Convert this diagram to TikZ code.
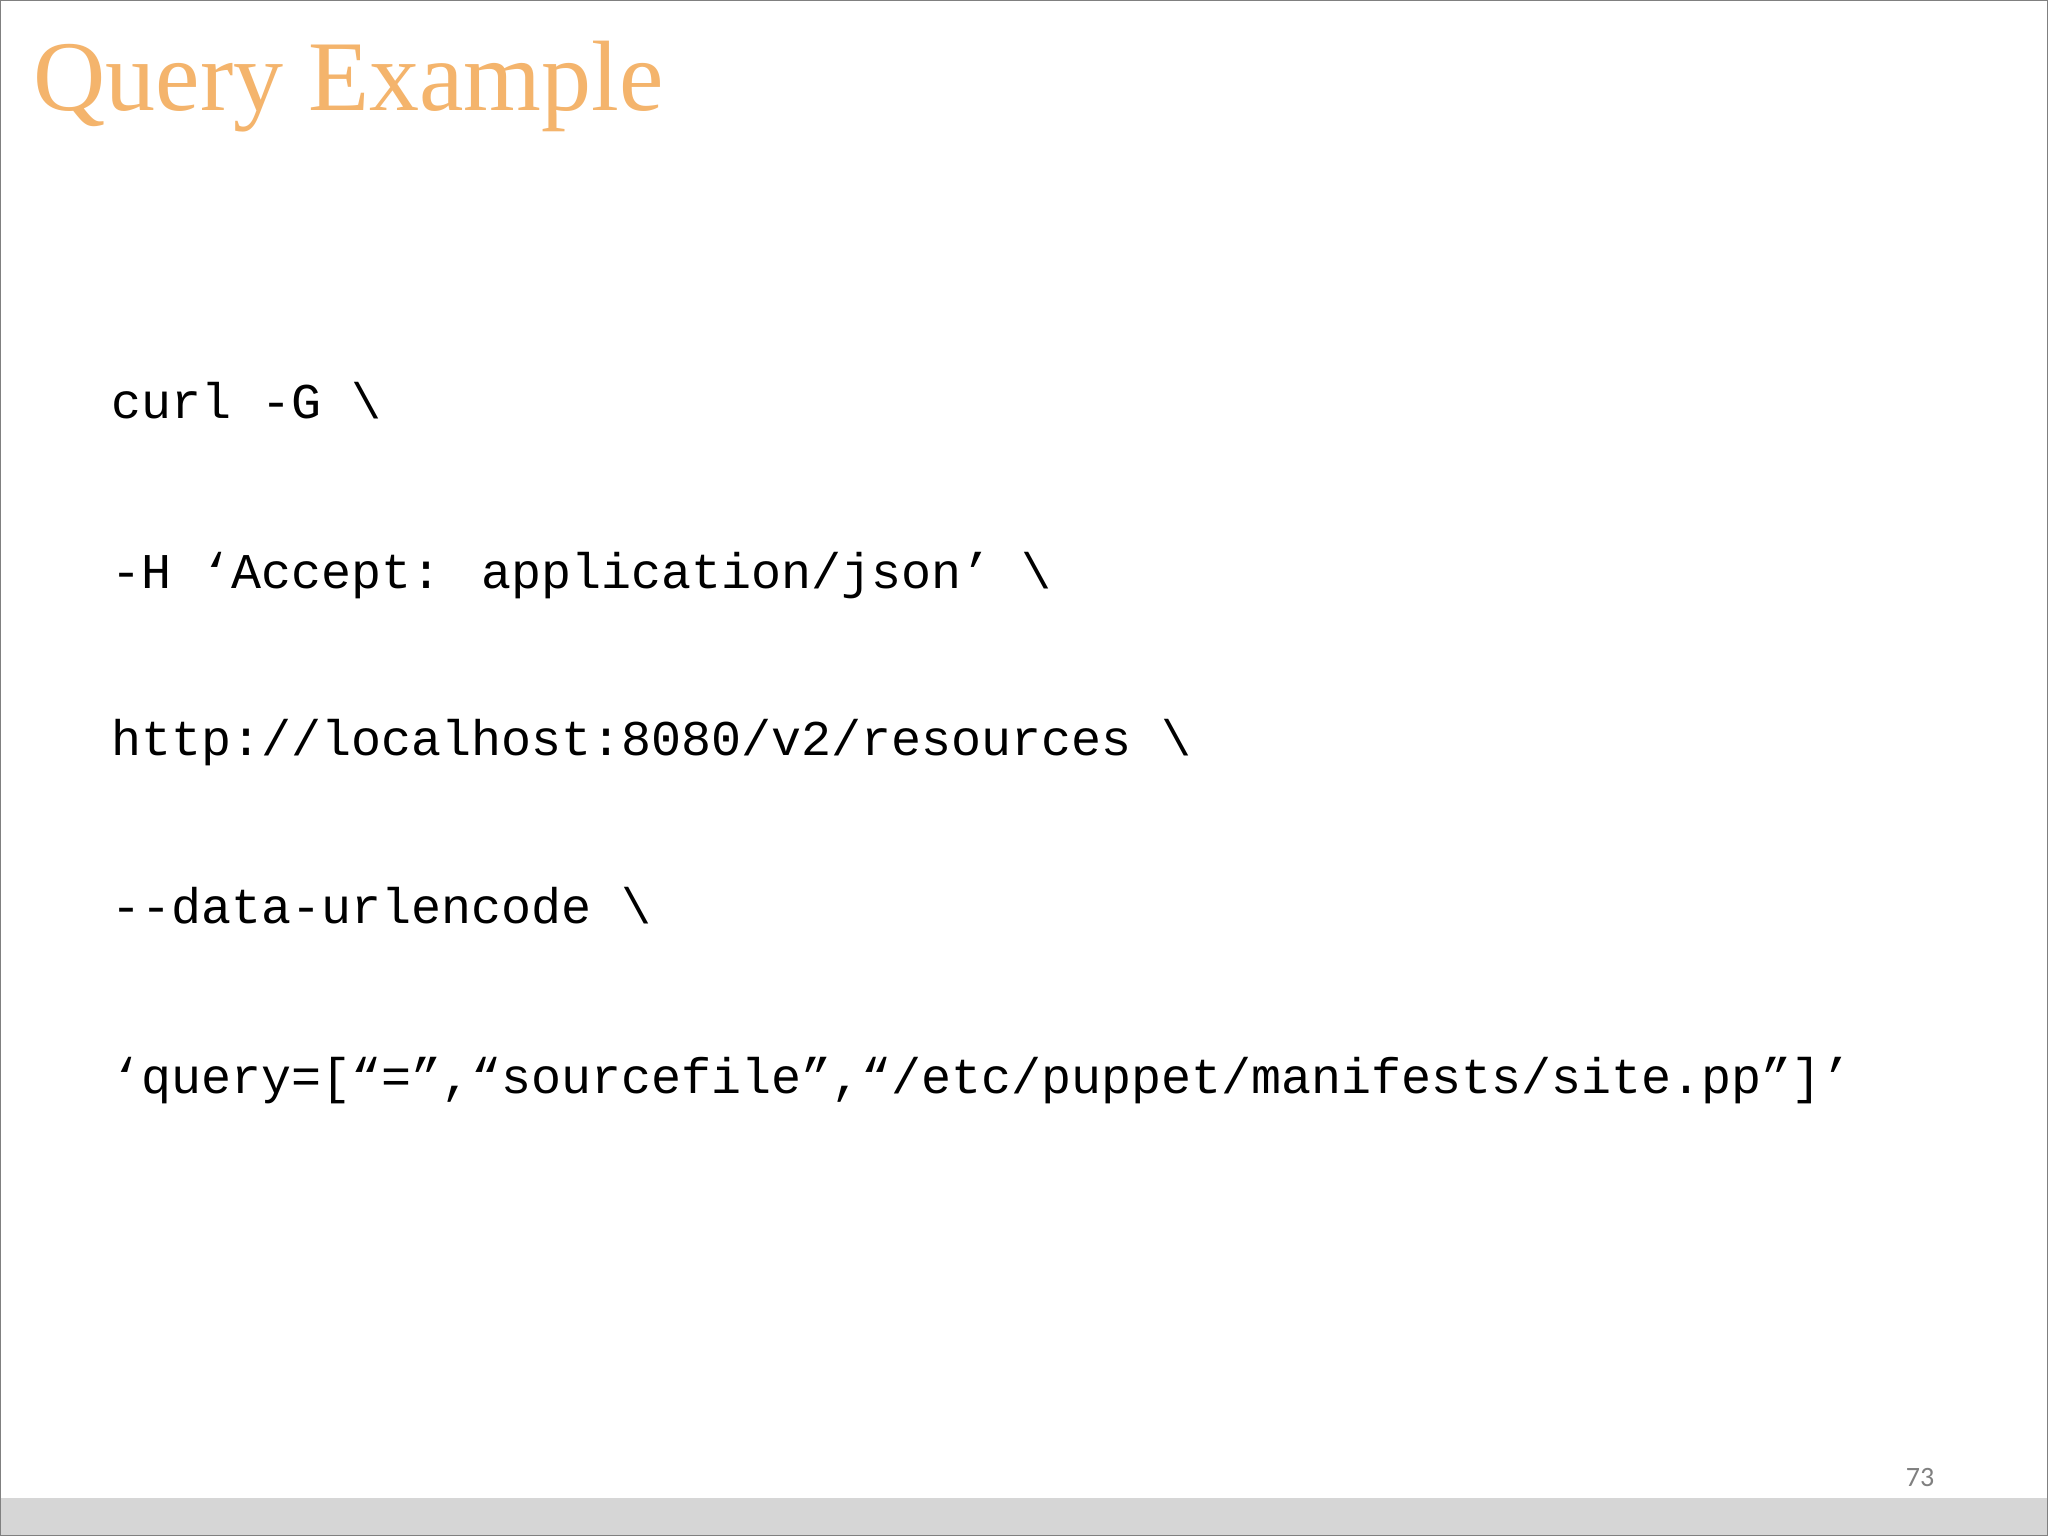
\documentclass[tikz,border=0pt]{standalone}
\usepackage{fontspec}
\setmainfont{Liberation Serif}
\newfontfamily\codefont{Liberation Mono}
\newfontfamily\numfont{Carlito}
\definecolor{titleorange}{HTML}{F4B46C}
\definecolor{barcol}{HTML}{D6D6D6}
\begin{document}
\begin{tikzpicture}[x=0.5pt,y=-0.5pt,
  code/.style={anchor=base west,inner sep=0,font=\codefont\fontsize{25}{30}\selectfont}]
\useasboundingbox (0,0) rectangle (2048,1536);
\fill[white] (0,0) rectangle (2048,1536);
\fill[barcol] (0,1498) rectangle (2048,1536);
\draw[gray,line width=0.8pt] (0.5,0.5) rectangle (2047.5,1535.5);
\node[anchor=base west,inner sep=0,text=titleorange,font=\fontsize{50}{60}\selectfont] (title) at (33,111) {Query Example};
\node[code] (l1) at (111,418) {curl -G \textbackslash};
\node[code] (l2) at (111,588) {-H ‘Accept: application/json’ \textbackslash};
\node[code] (l3) at (111,755) {http://localhost:8080/v2/resources \textbackslash};
\node[code] (l4) at (111,923) {-{}-data-urlencode \textbackslash};
\node[code] (l5) at (111,1093) {‘query=[“=”,“sourcefile”,“/etc/puppet/manifests/site.pp”]’};
\node[anchor=base,inner sep=0,text=gray,font=\numfont\fontsize{14}{16}\selectfont] (pg) at (1920,1486) {73};
\end{tikzpicture}
\end{document}
